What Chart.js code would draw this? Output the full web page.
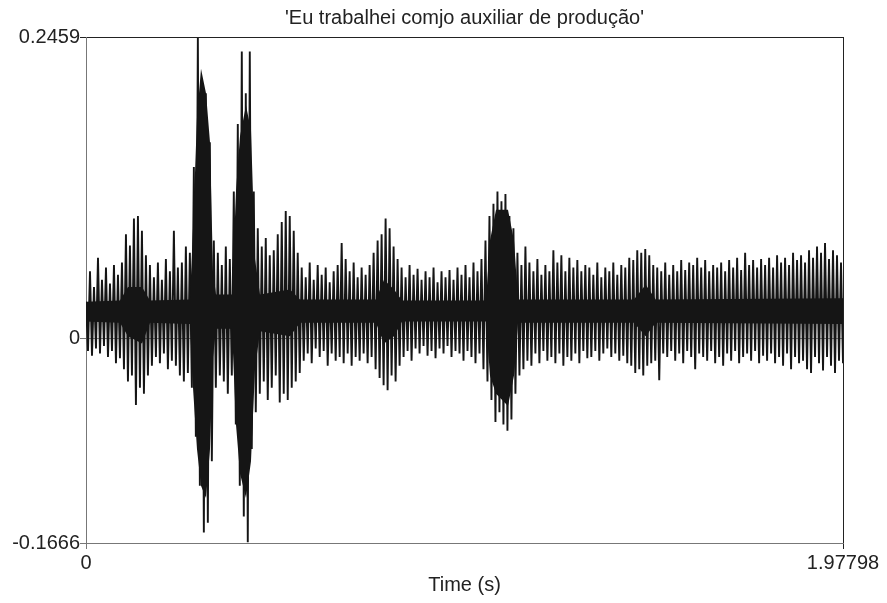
<!DOCTYPE html>
<html>
<head>
<meta charset="utf-8">
<script src="https://cdn.jsdelivr.net/npm/chart.js@4/dist/chart.umd.min.js"></script>
<style>
  body { margin: 0; background: #fff; }
  canvas { display: block; }
</style>
</head>
<body>
<canvas id="waveChart" width="887" height="603"></canvas>
<script>
const chartTitle = "'Eu trabalhei comjo auxiliar de produção'";
const xTitle = "Time (s)";
const xTicks = [0, 1.97798];
const xTickLabels = ["0", "1.97798"];
const yTicks = [-0.1666, 0, 0.2459];
const yTickLabels = ["-0.1666", "0", "0.2459"];

// upper and lower peaks of the waveform, one pair per short stretch of time
const peakHigh = [
  0.030, 0.055, 0.042, 0.066, 0.048, 0.058, 0.045, 0.060, 0.052, 0.062,
  0.085, 0.076, 0.098, 0.100, 0.088, 0.068, 0.060, 0.050, 0.062, 0.048,
  0.065, 0.055, 0.088, 0.058, 0.062, 0.075, 0.070, 0.140, 0.245, 0.210,
  0.200, 0.160, 0.080, 0.070, 0.060, 0.075, 0.065, 0.120, 0.175, 0.234,
  0.200, 0.234, 0.120, 0.090, 0.075, 0.082, 0.068, 0.072, 0.085, 0.095,
  0.104, 0.100, 0.088, 0.070, 0.058, 0.050, 0.062, 0.048, 0.060, 0.052,
  0.058, 0.046, 0.055, 0.060, 0.078, 0.065, 0.055, 0.062, 0.050, 0.058,
  0.052, 0.060, 0.070, 0.080, 0.085, 0.098, 0.090, 0.075, 0.065, 0.058,
  0.050, 0.060, 0.052, 0.057, 0.048, 0.055, 0.050, 0.058, 0.046, 0.055,
  0.050, 0.056, 0.048, 0.058, 0.052, 0.060, 0.050, 0.062, 0.055, 0.065,
  0.080, 0.100, 0.110, 0.120, 0.112, 0.118, 0.100, 0.090, 0.070, 0.060,
  0.075, 0.062, 0.055, 0.065, 0.052, 0.060, 0.055, 0.072, 0.062, 0.068,
  0.055, 0.066, 0.058, 0.064, 0.055, 0.060, 0.058, 0.052, 0.062, 0.050,
  0.058, 0.055, 0.062, 0.052, 0.060, 0.058, 0.066, 0.064, 0.072, 0.070,
  0.073, 0.068, 0.060, 0.058, 0.055, 0.062, 0.052, 0.060, 0.055, 0.064,
  0.056, 0.062, 0.060, 0.066, 0.058, 0.064, 0.055, 0.060, 0.058, 0.062,
  0.055, 0.064, 0.058, 0.066, 0.056, 0.070, 0.060, 0.064, 0.058, 0.065,
  0.060, 0.066, 0.058, 0.068, 0.062, 0.066, 0.060, 0.070, 0.064, 0.068,
  0.062, 0.072, 0.066, 0.075, 0.070, 0.078, 0.065, 0.072, 0.068, 0.062
];
const peakLow = [
  -0.010, -0.014, -0.008, -0.012, -0.006, -0.015, -0.010, -0.020, -0.016, -0.025,
  -0.035, -0.030, -0.054, -0.040, -0.045, -0.030, -0.022, -0.015, -0.020, -0.012,
  -0.025, -0.018, -0.022, -0.030, -0.035, -0.028, -0.040, -0.080, -0.120, -0.158,
  -0.150, -0.100, -0.040, -0.030, -0.035, -0.045, -0.030, -0.070, -0.120, -0.145,
  -0.166, -0.090, -0.060, -0.045, -0.035, -0.050, -0.040, -0.030, -0.052, -0.045,
  -0.050, -0.040, -0.035, -0.028, -0.018, -0.012, -0.020, -0.008, -0.015, -0.010,
  -0.022, -0.012, -0.018, -0.015, -0.020, -0.012, -0.022, -0.015, -0.018, -0.012,
  -0.020, -0.015, -0.025, -0.032, -0.038, -0.042, -0.030, -0.035, -0.022, -0.015,
  -0.010, -0.018, -0.008, -0.012, -0.006, -0.014, -0.010, -0.016, -0.008, -0.012,
  -0.006, -0.015, -0.010, -0.012, -0.018, -0.010, -0.015, -0.020, -0.012, -0.025,
  -0.035, -0.050, -0.068, -0.060, -0.070, -0.075, -0.066, -0.045, -0.030, -0.025,
  -0.018, -0.022, -0.012, -0.020, -0.010, -0.018, -0.015, -0.020, -0.012, -0.022,
  -0.015, -0.018, -0.012, -0.020, -0.010, -0.016, -0.015, -0.010, -0.018, -0.012,
  -0.008, -0.015, -0.012, -0.018, -0.014, -0.020, -0.022, -0.028, -0.025, -0.030,
  -0.022, -0.020, -0.018, -0.034, -0.012, -0.015, -0.010, -0.018, -0.012, -0.020,
  -0.010, -0.015, -0.025, -0.012, -0.015, -0.018, -0.010, -0.020, -0.015, -0.022,
  -0.012, -0.018, -0.010, -0.020, -0.015, -0.012, -0.018, -0.010, -0.020, -0.014,
  -0.018, -0.012, -0.020, -0.015, -0.022, -0.012, -0.025, -0.015, -0.020, -0.018,
  -0.025, -0.028, -0.015, -0.020, -0.026, -0.015, -0.022, -0.028, -0.018, -0.020
];

// solid dark body of the trace (times in seconds)
const coreTime = [
  0, 0.0888, 0.1097, 0.1463, 0.1672, 0.2717, 0.2796, 0.2900, 0.3005, 0.3136,
  0.3240, 0.3318, 0.3397, 0.3815, 0.3919, 0.4024, 0.4180, 0.4311, 0.4416, 0.4546,
  0.5330, 0.5592, 0.7577, 0.7786, 0.8048, 0.8257, 1.0452, 1.0556, 1.0713, 1.1026,
  1.1183, 1.1288, 1.4319, 1.4624, 1.4885, 1.97798
];
const coreTop = [
  0.030, 0.031, 0.042, 0.042, 0.031, 0.032, 0.090, 0.180, 0.220, 0.200,
  0.160, 0.055, 0.036, 0.036, 0.120, 0.165, 0.190, 0.170, 0.065, 0.036,
  0.040, 0.032, 0.032, 0.048, 0.040, 0.031, 0.031, 0.080, 0.105, 0.105,
  0.080, 0.032, 0.032, 0.044, 0.032, 0.033
];
const coreBottom = [
  0.014, 0.013, 0.002, -0.004, 0.013, 0.012, -0.040, -0.090, -0.120, -0.130,
  -0.090, -0.015, 0.008, 0.008, -0.070, -0.110, -0.130, -0.100, -0.025, 0.006,
  0.002, 0.013, 0.013, -0.004, 0.002, 0.014, 0.014, -0.030, -0.045, -0.055,
  -0.030, 0.013, 0.013, 0.002, 0.013, 0.012
];

const ctx = document.getElementById("waveChart").getContext("2d");

// alternate high and low peaks along the time axis
const duration = xTicks[xTicks.length - 1];
const step = duration / (peakHigh.length * 2 - 1);
const wavePoints = [];
peakHigh.forEach((high, i) => {
  wavePoints.push({ x: (2 * i) * step, y: high });
  wavePoints.push({ x: (2 * i + 1) * step, y: peakLow[i] });
});
const coreTopPoints = coreTime.map((t, i) => ({ x: t, y: coreTop[i] }));
const coreBottomPoints = coreTime.map((t, i) => ({ x: t, y: coreBottom[i] }));

const traceColor = "#151515";
const textColor = "#222";
const font = { family: "'Liberation Sans', Arial, sans-serif", size: 20 };

new Chart(ctx, {
  type: "line",
  data: {
    datasets: [
      {
        data: coreTopPoints,
        borderWidth: 0,
        pointRadius: 0,
        backgroundColor: traceColor,
        fill: "+1",
      },
      {
        data: coreBottomPoints,
        borderWidth: 0,
        pointRadius: 0,
        fill: false,
      },
      {
        data: wavePoints,
        borderColor: traceColor,
        borderWidth: 1.9,
        borderJoinStyle: "miter",
        pointRadius: 0,
        tension: 0,
        fill: false,
      },
    ],
  },
  options: {
    responsive: false,
    animation: false,
    devicePixelRatio: 1,
    layout: { padding: { left: 0, right: 44, top: 0, bottom: 0 } },
    plugins: {
      legend: { display: false },
      tooltip: { enabled: false },
      title: {
        display: true,
        text: chartTitle,
        fullSize: false,
        color: textColor,
        font: { family: font.family, size: 20, weight: "normal" },
        padding: { top: 6, bottom: 7 },
      },
    },
    scales: {
      x: {
        type: "linear",
        min: xTicks[0],
        max: duration,
        afterBuildTicks: scale => { scale.ticks = xTicks.map(v => ({ value: v })); },
        afterFit: scale => { scale.height = 60; },
        ticks: {
          autoSkip: false,
          maxRotation: 0,
          padding: 2,
          color: textColor,
          font: font,
          callback: value => xTickLabels[xTicks.indexOf(value)],
        },
        grid: {
          drawTicks: true,
          tickLength: 6,
          color: c => (c.tick && c.tick.value === duration ? "#222" : "#777"),
          tickColor: c => (c.tick && c.tick.value === duration ? "#222" : "#777"),
        },
        border: { display: true, color: "#777" },
        title: {
          display: true,
          text: xTitle,
          color: textColor,
          font: font,
          padding: { top: 0, bottom: 6 },
        },
      },
      y: {
        min: yTicks[0],
        max: yTicks[yTicks.length - 1],
        afterBuildTicks: scale => { scale.ticks = yTicks.map(v => ({ value: v })); },
        afterFit: scale => { scale.width = 86; },
        ticks: {
          padding: 0,
          color: textColor,
          font: font,
          callback: value => yTickLabels[yTicks.indexOf(value)],
        },
        grid: {
          tickLength: 6,
          color: c => (c.tick && c.tick.value === yTicks[yTicks.length - 1] ? "#222" : "#888"),
          tickColor: c => (c.tick && c.tick.value === yTicks[yTicks.length - 1] ? "#222" : "#777"),
        },
        border: { display: true, color: "#777" },
      },
    },
  },
});
</script>
</body>
</html>
